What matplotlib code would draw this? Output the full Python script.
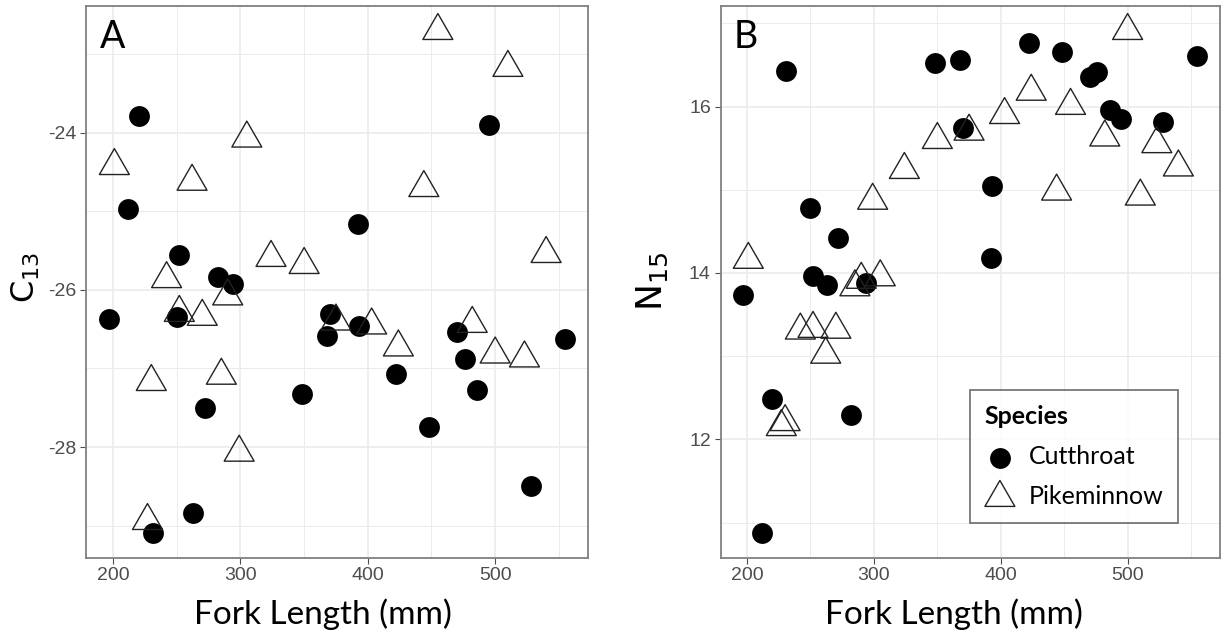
"""Stable isotope values against fork length for cutthroat and pikeminnow."""
import matplotlib
matplotlib.use("Agg")
import matplotlib.pyplot as plt
from matplotlib.path import Path
from matplotlib.ticker import MultipleLocator

plt.rcParams["axes.unicode_minus"] = False
plt.rcParams["mathtext.fontset"] = "custom"
plt.rcParams["mathtext.rm"] = "Lato"
plt.rcParams["mathtext.default"] = "regular"

# fork length (mm) and isotope values
ct_length = [197, 212, 220, 231, 250, 252, 263, 272, 282, 294, 348, 368,
             370, 392, 393, 422, 448, 470, 476, 486, 495, 528, 555]
ct_c13 = [-26.37, -24.97, -23.78, -29.09, -26.34, -25.56, -28.84, -27.50,
          -25.84, -25.93, -27.32, -26.58, -26.30, -25.16, -26.46, -27.07,
          -27.75, -26.54, -26.88, -27.27, -23.90, -28.49, -26.63]
ct_n15 = [13.74, 10.88, 12.49, 16.43, 14.78, 13.96, 13.86, 14.42, 12.29,
          13.88, 16.52, 16.56, 15.74, 14.18, 15.04, 16.76, 16.65, 16.35,
          16.41, 15.96, 15.85, 15.81, 16.61]

pm_length = [201, 227, 230, 242, 252, 262, 270, 285, 290, 299, 305, 324,
             350, 375, 403, 424, 444, 455, 482, 500, 510, 523, 540]
pm_c13 = [-24.42, -28.94, -27.17, -25.86, -26.29, -24.62, -26.34, -27.09,
          -26.08, -28.07, -24.07, -25.59, -25.68, -26.40, -26.45, -26.73,
          -24.70, -22.70, -26.43, -26.82, -23.17, -26.87, -25.54]
pm_n15 = [14.16, 12.15, 12.21, 13.31, 13.33, 13.02, 13.32, 13.83, 13.92,
          14.87, 13.95, 15.24, 15.60, 15.70, 15.90, 16.18, 14.98, 16.01,
          15.63, 16.91, 14.92, 15.55, 15.27]

species = ["Cutthroat", "Pikeminnow"]

# open triangle centred on its centroid, like R's pch 2
TRIANGLE = Path([(0, 1), (-0.866, -0.5), (0.866, -0.5), (0, 1)],
                [Path.MOVETO, Path.LINETO, Path.LINETO, Path.CLOSEPOLY])

LABEL_FONT = "Lato"
TICK_FONT = "Liberation Sans"


def expanded(values, frac=0.05):
    lo, hi = min(values), max(values)
    pad = (hi - lo) * frac
    return lo - pad, hi + pad


def style_axes(ax, ymajor):
    ax.set_facecolor("white")
    ax.set_axisbelow(True)
    ax.xaxis.set_major_locator(MultipleLocator(100))
    ax.xaxis.set_minor_locator(MultipleLocator(50))
    ax.yaxis.set_major_locator(MultipleLocator(ymajor))
    ax.yaxis.set_minor_locator(MultipleLocator(ymajor / 2))
    ax.grid(which="major", color="#ebebeb", linewidth=1.2)
    ax.grid(which="minor", color="#ebebeb", linewidth=0.7)
    ax.tick_params(which="major", length=4, width=0.8, color="#4d4d4d",
                   labelcolor="#4d4d4d", labelsize=14, pad=3)
    ax.tick_params(which="minor", length=0)
    for lab in ax.get_xticklabels() + ax.get_yticklabels():
        lab.set_fontfamily(TICK_FONT)
    for spine in ax.spines.values():
        spine.set_color("#808080")
        spine.set_linewidth(1.3)


def draw_panel(ax, ct_y, pm_y, letter):
    ct = ax.scatter(ct_length, ct_y, s=225, marker="o", color="black",
                    linewidths=0, label=species[0], zorder=3)
    pm = ax.scatter(pm_length, pm_y, s=620, marker=TRIANGLE,
                    facecolors="none", edgecolors="#222222", linewidths=1.0,
                    label=species[1], zorder=3)
    ax.set_xlim(expanded(ct_length + pm_length))
    ax.set_ylim(expanded(ct_y + pm_y))
    ax.text(0.027, 0.923, letter, transform=ax.transAxes, fontsize=27,
            family=LABEL_FONT, va="baseline", ha="left")
    return ct, pm


fig = plt.figure(figsize=(12.25, 6.36), dpi=100)
ax1 = fig.add_axes([0.0706, 0.1231, 0.4094, 0.8679])
ax2 = fig.add_axes([0.5882, 0.1231, 0.4078, 0.8679])

draw_panel(ax1, ct_c13, pm_c13, "A")
ct, pm = draw_panel(ax2, ct_n15, pm_n15, "B")
style_axes(ax1, 2)
style_axes(ax2, 2)

leg = ax2.legend(handles=[ct, pm], title="Species", loc="lower right",
                 bbox_to_anchor=(0.9165, 0.0623), borderaxespad=0,
                 frameon=True, fancybox=False, borderpad=0.6,
                 handlelength=1.2, handletextpad=0.55, labelspacing=0.68,
                 prop={"family": LABEL_FONT, "size": 18},
                 title_fontproperties={"family": LABEL_FONT, "size": 18,
                                       "weight": "bold"},
                 alignment="left")
leg.get_frame().set_edgecolor("#555555")
leg.get_frame().set_linewidth(1.3)

fig.text(0.2635, 0.0189, "Fork Length (mm)", fontsize=24, family=LABEL_FONT,
         ha="center", va="baseline")
fig.text(0.7786, 0.0189, "Fork Length (mm)", fontsize=24, family=LABEL_FONT,
         ha="center", va="baseline")
fig.text(26 / 1225, 1 - 277 / 636, "C$_{13}$", fontsize=23, rotation=90,
         ha="center", va="center")
fig.text(652 / 1225, 1 - 281 / 636, "N$_{15}$", fontsize=26, rotation=90,
         ha="center", va="center")

fig.savefig("out.png", dpi=100, facecolor="white")
